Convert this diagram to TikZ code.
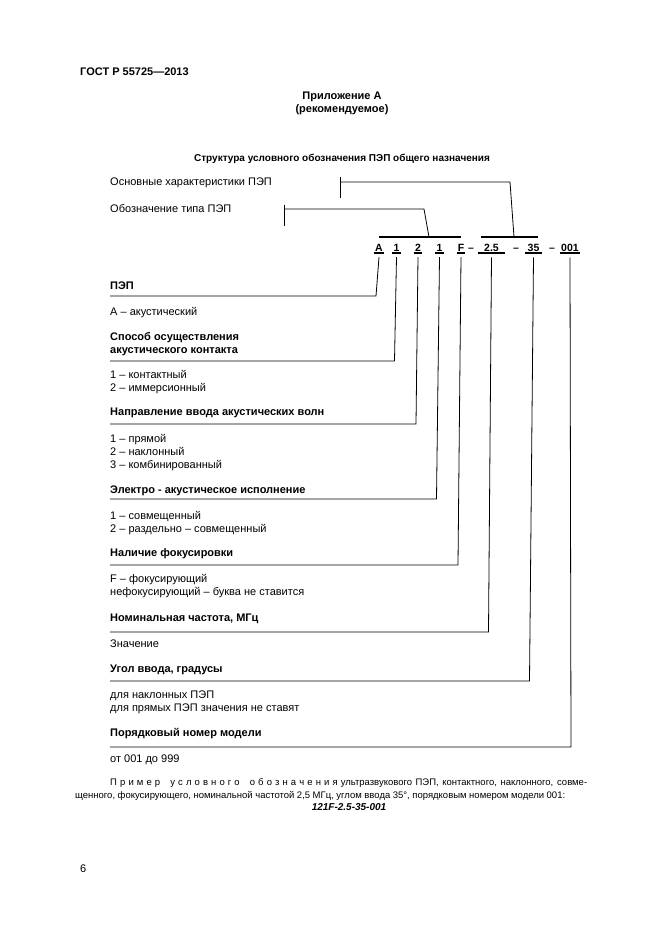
\documentclass[tikz,border=0pt]{standalone}
\usepackage{fontspec}
\setmainfont{Liberation Sans}
\usetikzlibrary{positioning, calc}

% letter-spaced word
\def\spacedword#1{\spwletter#1\relax}
\def\spwletter#1{\ifx#1\relax\else#1\kern3.1pt\expandafter\spwletter\fi}

\tikzset{
  lead/.style={line width=0.8pt, black},
  barline/.style={line width=2.6pt, black},
  ubar/.style={line width=2pt, black},
  codechar/.style={font=\bfseries\fontsize{10.5}{12}\selectfont, inner xsep=1pt,
                   inner ysep=2pt, anchor=base},
  headtxt/.style={font=\bfseries\fontsize{11}{13}\selectfont, anchor=base west, inner sep=0pt},
  itemtxt/.style={font=\fontsize{11}{13}\selectfont, anchor=base west, inner sep=0pt},
  titletxt/.style={font=\bfseries\fontsize{11}{13}\selectfont, anchor=base, inner sep=0pt},
  smalltxt/.style={font=\fontsize{9.5}{12}\selectfont, anchor=base west, inner sep=0pt},
}

\begin{document}
\begin{tikzpicture}[x=1pt, y=-1pt]
  \useasboundingbox[fill=white] (0,0) rectangle (661,935);

  % page head
  \node[headtxt] (gost) at (80,75) {ГОСТ Р 55725---2013};
  \node[titletxt] (app) at (342,99) {Приложение А};
  \node[titletxt] (rec) at (342,112) {(рекомендуемое)};
  \node[titletxt, font=\bfseries\fontsize{10}{12}\selectfont] (capt) at (342,161)
       {Структура условного обозначения ПЭП общего назначения};

  % upper labels
  \node[itemtxt] (lblMain) at (110,185) {Основные характеристики ПЭП};
  \node[itemtxt] (lblType) at (110,212) {Обозначение типа ПЭП};

  % designation code
  \foreach \n/\x/\t in {cA/379/A, c1/396.5/1, c2/418/2, c3/439.5/1, cF/461/F}
    \node[codechar] (\n) at (\x,251) {\t};
  \node[codechar, minimum width=27pt] (cf) at (491.5,251) {2.5};
  \node[codechar, minimum width=17pt] (c35) at (533.5,251) {35};
  \node[codechar, minimum width=20pt] (cN) at (570,251) {001};
  \node[codechar] (d1) at (471,251) {--};
  \node[codechar] (d2) at (516,251) {--};
  \node[codechar] (d3) at (552,251) {--};
  \foreach \n in {cA, c1, c2, c3, cF, cf, c35, cN}
    \draw[ubar] (\n.south west) -- (\n.south east);

  % group bars and brackets
  \coordinate (bar1w) at (379,237); \coordinate (bar1e) at (461,237);
  \coordinate (bar2w) at (481,237); \coordinate (bar2e) at (538,237);
  \draw[barline] (bar1w) -- (bar1e);
  \draw[barline] (bar2w) -- (bar2e);
  \coordinate (m1) at (429,237); \coordinate (m2) at (514,237);
  \coordinate (t1) at (284,209); \coordinate (t2) at (340,182);
  \draw[lead] (m1) -- ++(-5,-28) -- (t1);
  \draw[lead] ([yshift=4pt]t1) -- ([yshift=-17pt]t1);
  \draw[lead] (m2) -- ++(-4,-55) -- (t2);
  \draw[lead] ([yshift=5pt]t2) -- ([yshift=-16pt]t2);

  % headings and values
  \node[headtxt] (hPep) at (110,289) {ПЭП};
  \node[itemtxt] (iA) at (110,315) {А -- акустический};
  \node[headtxt] (hCon) at (110,340) {Способ осуществления};
  \node[headtxt] (hCon2) at (110,353) {акустического контакта};
  \node[itemtxt] (iC1) at (110,378) {1 -- контактный};
  \node[itemtxt] (iC2) at (110,391) {2 -- иммерсионный};
  \node[headtxt] (hDir) at (110,415) {Направление ввода акустических волн};
  \node[itemtxt] (iD1) at (110,442) {1 -- прямой};
  \node[itemtxt] (iD2) at (110,455) {2 -- наклонный};
  \node[itemtxt] (iD3) at (110,468) {3 -- комбинированный};
  \node[headtxt] (hEl) at (110,493) {Электро - акустическое исполнение};
  \node[itemtxt] (iE1) at (110,519) {1 -- совмещенный};
  \node[itemtxt] (iE2) at (110,532) {2 -- раздельно -- совмещенный};
  \node[headtxt] (hFoc) at (110,556) {Наличие фокусировки};
  \node[itemtxt] (iF1) at (110,582) {F -- фокусирующий};
  \node[itemtxt] (iF2) at (110,595) {нефокусирующий -- буква не ставится};
  \node[headtxt] (hFr) at (110,621) {Номинальная частота, МГц};
  \node[itemtxt] (iR1) at (110,647) {Значение};
  \node[headtxt] (hAng) at (110,672) {Угол ввода, градусы};
  \node[itemtxt] (iG1) at (110,698) {для наклонных ПЭП};
  \node[itemtxt] (iG2) at (110,711) {для прямых ПЭП значения не ставят};
  \node[headtxt] (hNum) at (110,736) {Порядковый номер модели};
  \node[itemtxt] (iN1) at (110,762) {от 001 до 999};

  % leads from code to headings
  \coordinate (ePep) at (110,296); \coordinate (eCon) at (110,361);
  \coordinate (eDir) at (110,424); \coordinate (eEl) at (110,499);
  \coordinate (eFoc) at (110,565); \coordinate (eFr) at (110,632);
  \coordinate (eAng) at (110,681); \coordinate (eNum) at (110,747);
  \foreach \n/\dx/\e in {cA/-3/ePep, c1/-2/eCon, c2/-2/eDir, c3/-3/eEl,
                          cF/-3/eFoc, cf/-3/eFr, c35/-4/eAng, cN/1/eNum}
    \draw[lead] ([yshift=-4pt]\n.south) -- ([xshift=\dx pt]\n.south |- \e) -- (\e);

  % example
  \node[smalltxt] (ex1) at (110,785) {\makebox[477pt][s]{\spacedword{Пример}\hspace{7pt}%
     \spacedword{условного}\hspace{7pt}\spacedword{обозначения}
     ультразвукового ПЭП, контактного, наклонного, совме-}};
  \node[smalltxt] (ex2) at (75,798) {\makebox[490pt][s]{щенного, фокусирующего, номинальной
     частотой 2,5 МГц, углом ввода 35°, порядковым номером модели 001:}};
  \node[titletxt, font=\bfseries\itshape\fontsize{10}{12}\selectfont] (exc) at (349,810) {121F-2.5-35-001};

  \node[itemtxt] (pg) at (80,872) {6};
\end{tikzpicture}
\end{document}
